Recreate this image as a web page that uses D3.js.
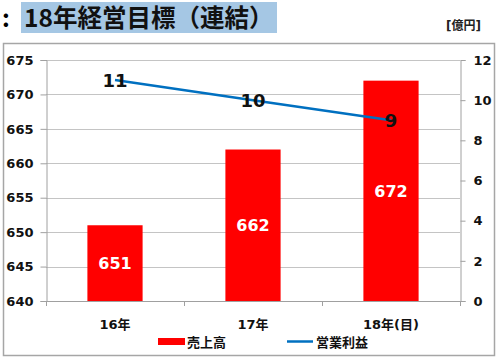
<!DOCTYPE html>
<html>
<head>
<meta charset="utf-8">
<script src="https://cdn.jsdelivr.net/npm/d3@7"></script>
<style>
  body { margin: 0; background: #fff; }
  text { font-family: "DejaVu Sans", "Noto Sans CJK JP", sans-serif; }
</style>
</head>
<body>
<div id="chart"></div>
<script>
// chart data
var categories = ["16年", "17年", "18年(目)"];
var sales      = [651, 662, 672];   // 売上高 (left axis)
var profit     = [11, 10, 9];       // 営業利益 (right axis)
var leftTicks  = [640, 645, 650, 655, 660, 665, 670, 675];
var rightTicks = [0, 2, 4, 6, 8, 10, 12];
var seriesNames = ["売上高", "営業利益"];
var titleText = "18年経営目標（連結）";
var unitText  = "[億円]";

var W = 500, H = 360;
var plot = { left: 46, right: 460, top: 60, bottom: 301 };

var svg = d3.select("#chart")
  .append("svg")
    .attr("width", W)
    .attr("height", H);

// title
svg.append("rect")
  .attr("x", 21).attr("y", 2)
  .attr("width", 256).attr("height", 31)
  .style("fill", "#a5c7e4");
svg.append("text")
  .attr("x", 2).attr("y", 27)
  .style("font-family", "'Noto Sans CJK JP'")
  .style("font-weight", "bold")
  .style("font-size", "24px")
  .text(":");
svg.append("text")
  .attr("x", 24).attr("y", 27)
  .style("font-family", "'Noto Sans CJK JP'")
  .style("font-weight", "bold")
  .style("font-size", "24.5px")
  .style("fill", "#111")
  .text(titleText);

// outer frame
svg.append("rect")
  .attr("x", 3.5).attr("y", 43.5)
  .attr("width", 491).attr("height", 312)
  .style("fill", "none")
  .style("stroke", "#a6a6a6")
  .style("stroke-width", 1.5);

svg.append("text")
  .attr("x", 481).attr("y", 30)
  .attr("text-anchor", "end")
  .style("font-weight", "bold")
  .style("font-size", "12px")
  .style("fill", "#222")
  .text(unitText);

// scales
var x = d3.scaleBand()
  .domain(categories)
  .range([plot.left, plot.right])
  .paddingInner(0.6)
  .paddingOuter(0.3);

var xTick = d3.scalePoint()
  .domain(d3.range(categories.length + 1))
  .range([plot.left, plot.right]);

var yL = d3.scaleLinear()
  .domain([leftTicks[0], leftTicks[leftTicks.length - 1]])
  .range([plot.bottom, plot.top]);

var yR = d3.scaleLinear()
  .domain([rightTicks[0], rightTicks[rightTicks.length - 1]])
  .range([plot.bottom, plot.top]);

// gridlines
svg.append("g")
  .selectAll("line")
  .data(leftTicks)
  .enter()
  .append("line")
    .attr("x1", plot.left)
    .attr("x2", plot.right)
    .attr("y1", function(d) { return Math.round(yL(d)) + 0.5; })
    .attr("y2", function(d) { return Math.round(yL(d)) + 0.5; })
    .style("stroke", "#c4c4c4")
    .style("stroke-width", 1);

// bars
var cx = function(d, i) { return x(categories[i]) + x.bandwidth() / 2; };

svg.append("g")
  .selectAll("rect")
  .data(sales)
  .enter()
  .append("rect")
    .attr("x", function(d, i) { return x(categories[i]); })
    .attr("y", function(d) { return yL(d); })
    .attr("width", x.bandwidth())
    .attr("height", function(d) { return plot.bottom - yL(d); })
    .style("fill", "#ff0000");

svg.append("g")
  .selectAll("text")
  .data(sales)
  .enter()
  .append("text")
    .attr("x", cx)
    .attr("y", function(d) { return (yL(d) + plot.bottom) / 2 + 6; })
    .attr("text-anchor", "middle")
    .style("font-weight", "bold")
    .style("font-size", "16px")
    .style("fill", "#fff")
    .text(function(d) { return d; });

// axes
var leftAxis = d3.axisLeft(yL).tickValues(leftTicks).tickSize(6).tickPadding(7);
var gL = svg.append("g")
  .attr("transform", "translate(" + (plot.left + 0.5) + ",0)")
  .call(leftAxis);

var rightAxis = d3.axisRight(yR).tickValues(rightTicks).tickSize(5).tickPadding(8);
var gR = svg.append("g")
  .attr("transform", "translate(" + (plot.right + 0.5) + ",0)")
  .call(rightAxis);

[gL, gR].forEach(function(g) {
  g.select(".domain").style("stroke", "#a0a0a0");
  g.selectAll(".tick line").style("stroke", "#a0a0a0");
  g.selectAll(".tick text")
    .style("font-family", "'DejaVu Sans'")
    .style("font-weight", "bold")
    .style("font-size", "13px")
    .style("fill", "#111");
});

// bottom axis line and category ticks
svg.append("line")
  .attr("x1", plot.left).attr("x2", plot.right)
  .attr("y1", plot.bottom + 0.5).attr("y2", plot.bottom + 0.5)
  .style("stroke", "#a0a0a0");

svg.append("g")
  .selectAll("line")
  .data(d3.range(categories.length + 1))
  .enter()
  .append("line")
    .attr("x1", function(d) { return Math.round(xTick(d)) + 0.5; })
    .attr("x2", function(d) { return Math.round(xTick(d)) + 0.5; })
    .attr("y1", plot.bottom)
    .attr("y2", plot.bottom + 5)
    .style("stroke", "#a0a0a0");

svg.append("g")
  .selectAll("text")
  .data(categories)
  .enter()
  .append("text")
    .attr("x", function(d) { return x(d) + x.bandwidth() / 2; })
    .attr("y", 329)
    .attr("text-anchor", "middle")
    .style("font-weight", "bold")
    .style("font-size", "13px")
    .style("fill", "#111")
    .text(function(d) { return d; });

// profit line
var line = d3.line()
  .x(function(d, i) { return cx(d, i); })
  .y(function(d) { return yR(d); });

svg.append("path")
  .datum(profit)
  .attr("d", line)
  .style("fill", "none")
  .style("stroke", "#0070c0")
  .style("stroke-width", 2.5);

svg.append("g")
  .selectAll("text")
  .data(profit)
  .enter()
  .append("text")
    .attr("x", cx)
    .attr("y", function(d) { return yR(d) + 7; })
    .attr("text-anchor", "middle")
    .style("font-weight", "bold")
    .style("font-size", "18px")
    .style("fill", "#111")
    .text(function(d) { return d; });

// legend
var legend = svg.append("g");
legend.append("rect")
  .attr("x", 158).attr("y", 338)
  .attr("width", 27).attr("height", 7)
  .style("fill", "#ff0000");
legend.append("text")
  .attr("x", 187).attr("y", 347)
  .style("font-weight", "bold")
  .style("font-size", "13px")
  .style("fill", "#111")
  .text(seriesNames[0]);
legend.append("line")
  .attr("x1", 287).attr("x2", 313)
  .attr("y1", 341.5).attr("y2", 341.5)
  .style("stroke", "#0070c0")
  .style("stroke-width", 2.5);
legend.append("text")
  .attr("x", 316).attr("y", 347)
  .style("font-weight", "bold")
  .style("font-size", "13px")
  .style("fill", "#111")
  .text(seriesNames[1]);
</script>
</body>
</html>
